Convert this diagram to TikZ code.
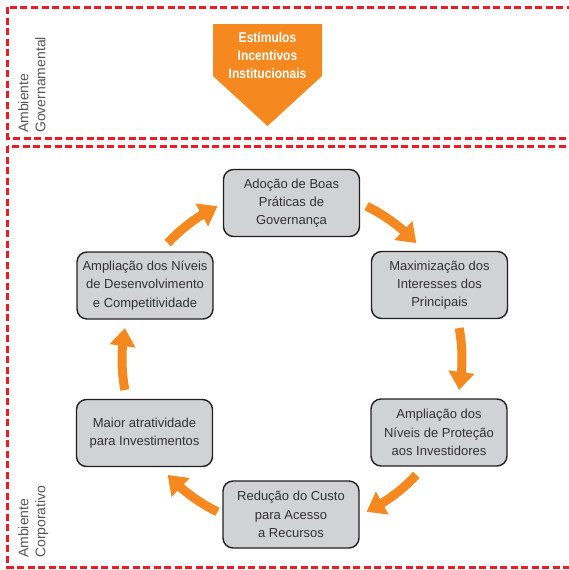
\documentclass[tikz,border=0pt]{standalone}
\usepackage{fontspec}
\setmainfont{Liberation Sans}
\newfontfamily\narrowbold[FakeStretch=0.86]{Liberation Sans}
\usetikzlibrary{arrows.meta,bending}

\definecolor{zonered}{RGB}{237,28,36}
\definecolor{flowor}{RGB}{245,137,32}
\definecolor{boxfill}{RGB}{209,210,212}
\definecolor{boxedge}{RGB}{35,31,32}
\definecolor{boxtext}{RGB}{50,50,50}
\definecolor{labelgray}{RGB}{85,85,85}

\tikzset{
  zone/.style={draw=zonered, line width=3pt, dash pattern=on 7pt off 3.5pt},
  stage/.style={draw=boxedge, fill=boxfill, line width=1.4pt, rounded corners=10pt,
    minimum width=136pt, minimum height=67pt, align=center, inner sep=0pt,
    text=boxtext, font=\fontsize{13}{18.3}\selectfont},
  flow/.style={draw=flowor, line width=9pt, -{Triangle[length=18pt,width=25pt]}},
  zonelabel/.style={rotate=90, anchor=north west, align=left, inner sep=0pt,
    text=labelgray, font=\fontsize{14}{17}\selectfont},
  banner/.style={fill=flowor, draw=none},
  bannertext/.style={align=center, text=white, inner sep=0pt,
    font=\narrowbold\bfseries\fontsize{14}{18}\selectfont},
}

\begin{document}
\begin{tikzpicture}[x=1pt,y=-1pt]
  \useasboundingbox (0,0) rectangle (569,570);
  \clip (0,0) rectangle (569,570);

  % dashed zones
  \draw[zone] (7.5,7) rectangle (590,138);
  \draw[zone] (7.5,146) rectangle (590,567);

  % zone labels
  \node[zonelabel] (govlabel) at (18,133) {Ambiente\\Governamental};
  \node[zonelabel] (corplabel) at (18,558) {Ambiente\\Corporativo};

  % incentive banner arrow
  \fill[banner] (213,24) -- (322,24) -- (322,76) -- (267.5,126) -- (213,76) -- cycle;
  \node[bannertext] (incentives) at (267.5,55) {Estímulos\\Incentivos\\Institucionais};

  % cycle stages
  \node[stage] (governance) at (291.5,203) {Adoção de Boas\\Práticas de\\Governança};
  \node[stage] (interests)  at (439.5,285) {Maximização dos\\Interesses dos\\Principais};
  \node[stage] (protection) at (439,432.5) {Ampliação dos\\Níveis de Proteção\\aos Investidores};
  \node[stage] (cost)       at (291,514.5) {Redução do Custo\\para Acesso\\a Recursos};
  \node[stage] (appeal)     at (144.5,433) {Maior atratividade\\para Investimentos};
  \node[stage] (growth)     at (145,285.5) {Ampliação dos Níveis\\de Desenvolvimento\\e Competitividade};

  % cycle arrows on a common circle
  \coordinate (hub) at (292,359);
  \draw[flow] ([shift={(-137:170)}]hub) arc[start angle=-137, end angle=-116, radius=170];
  \draw[flow] ([shift={(-64:170)}]hub) arc[start angle=-64, end angle=-43, radius=170];
  \draw[flow] ([shift={(-10.5:170)}]hub) arc[start angle=-10.5, end angle=10.5, radius=170];
  \draw[flow] ([shift={(43:170)}]hub) arc[start angle=43, end angle=64, radius=170];
  \draw[flow] ([shift={(116:170)}]hub) arc[start angle=116, end angle=137, radius=170];
  \draw[flow] ([shift={(169.5:170)}]hub) arc[start angle=169.5, end angle=190.5, radius=170];
\end{tikzpicture}
\end{document}
